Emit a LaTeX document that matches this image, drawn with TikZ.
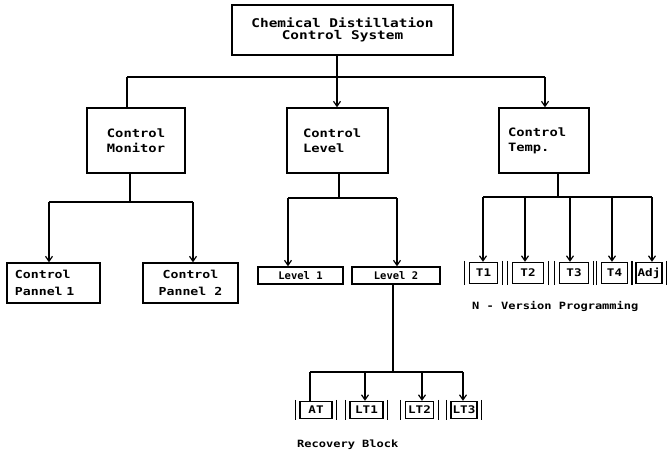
\documentclass[tikz,border=0pt]{standalone}
\usepackage{fontspec}
\usetikzlibrary{arrows.meta}
% wide dot-matrix-like mono face and a plain one
\newfontfamily\dotwide{DejaVu Sans Mono}[FakeStretch=1.2]
\newfontfamily\dotplain{DejaVu Sans Mono}
\tikzset{
  box/.style={draw, rectangle, line width=1.4pt, inner sep=0pt, align=center},
  bigtxt/.style={font=\dotwide\bfseries\fontsize{12}{12.5}\selectfont},
  midtxt/.style={font=\dotwide\bfseries\fontsize{11.5}{15}\selectfont},
  pantxt/.style={font=\dotwide\bfseries\fontsize{11}{17}\selectfont},
  lvltxt/.style={font=\dotplain\bfseries\fontsize{10.5}{12}\selectfont},
  smalltxt/.style={font=\dotwide\bfseries\fontsize{10.5}{12}\selectfont},
  captxt/.style={font=\dotwide\bfseries\fontsize{10}{12}\selectfont, inner sep=0pt, anchor=west},
  conn/.style={line width=1.2pt},
  arr/.style={conn, -{Straight Barb[length=5pt,width=7pt]}},
  sidebar/.style={line width=1.2pt}
}
\begin{document}
\begin{tikzpicture}[x=1pt,y=-1pt]
\fill[white] (0,0) rectangle (667,452);
\useasboundingbox (0,0) rectangle (667,452);

% root
\node[box, bigtxt, minimum width=221pt, minimum height=50pt] (root) at (342.5,30)
  {Chemical Distillation\\Control System};

% second level
\node[box, midtxt, minimum width=98pt, minimum height=65pt] (mon) at (136,140.5)
  {Control\\Monitor};
\node[box, midtxt, minimum height=65pt, text width=69pt, inner xsep=16pt, align=left] (lev) at (337.5,140.5)
  {Control\\Level};
\node[box, midtxt, minimum height=65pt, text width=72pt, inner xsep=9pt, align=left] (tmp) at (544,140.5)
  {Control\\Temp.};

% root fan-out
\coordinate (j0) at (337,77);
\coordinate (jl) at (127,77);
\coordinate (jr) at (545,77);
\draw[conn] (root.south -| j0) -- (j0);
\draw[conn] (jl) -- (jr);
\draw[conn] (jl) -- (jl |- mon.north);
\draw[arr] (j0) -- (j0 |- lev.north);
\draw[arr] (jr) -- (jr |- tmp.north);

% monitor panels
\node[box, pantxt, minimum height=40pt, text width=77pt, inner xsep=8pt, align=left] (p1) at (53.5,283)
  {Control\\Pannel~1};
\node[box, pantxt, minimum width=95pt, minimum height=40pt] (p2) at (190.5,283)
  {Control\\Pannel 2};
\coordinate (m0) at (130,202);
\coordinate (m1) at (49,202);
\coordinate (m2) at (193,202);
\draw[conn] (mon.south -| m0) -- (m0);
\draw[conn] (m1) -- (m2);
\draw[arr] (m1) -- (m1 |- p1.north);
\draw[arr] (m2) -- (m2 |- p2.north);

% levels
\node[box, lvltxt, minimum width=85pt, minimum height=17pt] (L1) at (300.5,275.5) {Level 1};
\node[box, lvltxt, minimum width=88pt, minimum height=17pt] (L2) at (396,275.5) {Level 2};
\coordinate (l0) at (339,198);
\coordinate (l1) at (288,198);
\coordinate (l2) at (397,198);
\draw[conn] (lev.south -| l0) -- (l0);
\draw[conn] (l1) -- (l2);
\draw[arr] (l1) -- (l1 |- L1.north);
\draw[arr] (l2) -- (l2 |- L2.north);

% recovery block alternates
\node[box, smalltxt, minimum width=32pt, minimum height=17pt] (at)  at (316,410)   {AT};
\node[box, smalltxt, minimum width=33pt, minimum height=17pt] (lt1) at (366.5,410) {LT1};
\node[box, smalltxt, minimum width=28pt, minimum height=17pt] (lt2) at (419.5,410) {LT2};
\node[box, smalltxt, minimum width=26pt, minimum height=17pt] (lt3) at (464,410)   {LT3};
\coordinate (r0) at (393,372);
\coordinate (r1) at (310,372);
\coordinate (r2) at (365,372);
\coordinate (r3) at (422,372);
\coordinate (r4) at (463,372);
\draw[conn] (L2.south -| r0) -- (r0);
\draw[conn] (r1) -- (r4);
\draw[conn] (r1) -- (r1 |- at.north);
\draw[arr] (r2) -- (r2 |- lt1.north);
\draw[arr] (r3) -- (r3 |- lt2.north);
\draw[arr] (r4) -- (r4 |- lt3.north);

% temperature versions
\node[box, smalltxt, minimum width=28pt, minimum height=21pt] (t1)  at (483.5,273) {T1};
\node[box, smalltxt, minimum width=31pt, minimum height=21pt] (t2)  at (528,273)   {T2};
\node[box, smalltxt, minimum width=29pt, minimum height=21pt] (t3)  at (574,273)   {T3};
\node[box, smalltxt, minimum width=26pt, minimum height=21pt] (t4)  at (614.5,273) {T4};
\node[box, smalltxt, minimum width=26pt, minimum height=21pt] (adj) at (649,273)   {Adj};
\coordinate (k0) at (558,197);
\coordinate (k1) at (483,197);
\coordinate (k2) at (525,197);
\coordinate (k3) at (570,197);
\coordinate (k4) at (612,197);
\coordinate (k5) at (652,197);
\draw[conn] (tmp.south -| k0) -- (k0);
\draw[conn] (k1) -- (k5);
\draw[arr] (k1) -- (k1 |- t1.north);
\draw[arr] (k2) -- (k2 |- t2.north);
\draw[arr] (k3) -- (k3 |- t3.north);
\draw[arr] (k4) -- (k4 |- t4.north);
\draw[arr] (k5) -- (k5 |- adj.north);

% side bars of the version boxes
\foreach \n in {t1,t2,t3,t4,adj,at,lt1,lt2,lt3}{
  \draw[sidebar] ([xshift=-4pt,yshift=1pt]\n.north west) -- ([xshift=-4pt,yshift=-1pt]\n.south west);
  \draw[sidebar] ([xshift=4pt,yshift=1pt]\n.north east) -- ([xshift=4pt,yshift=-1pt]\n.south east);
}

% captions
\node[captxt] (nvp) at (472,306) {N - Version Programming};
\node[captxt] (rb) at (297,445) {Recovery Block};
\end{tikzpicture}
\end{document}
